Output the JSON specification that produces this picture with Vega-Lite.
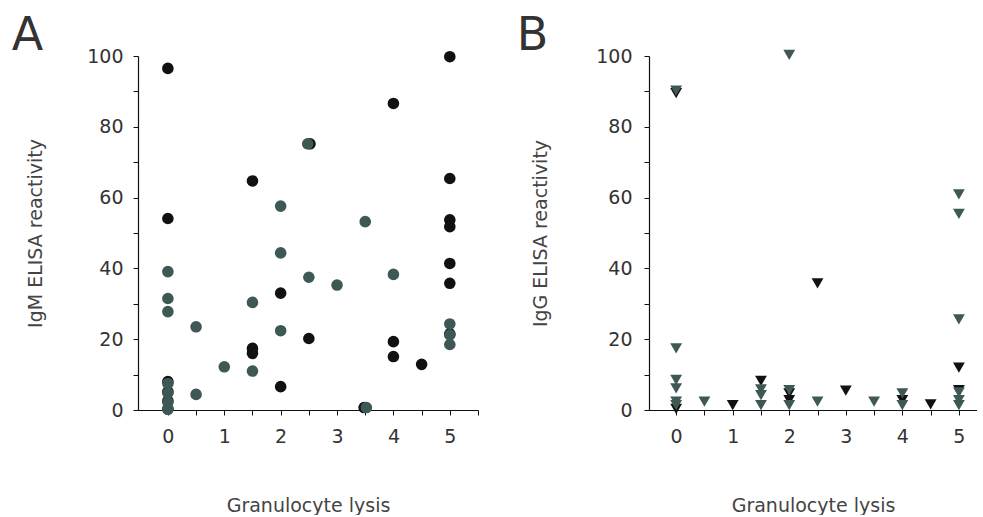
{
  "$schema": "https://vega.github.io/schema/vega-lite/v6.json",
  "background": "white",
  "padding": {"left": 11, "top": 13, "right": 0, "bottom": 0},
  "config": {
    "view": {"stroke": null},
    "font": "DejaVu Sans",
    "axis": {
      "grid": false,
      "domainColor": "#111111",
      "tickColor": "#111111",
      "labelColor": "#333333",
      "titleColor": "#444444",
      "labelFont": "DejaVu Sans",
      "titleFont": "DejaVu Sans",
      "labelFontSize": 19,
      "titleFontSize": 19,
      "titleFontWeight": "normal",
      "tickSize": 5,
      "domainWidth": 1.2,
      "tickWidth": 1
    },
    "axisLeft": {"encode": {"ticks": {"update": {"x2": {"value": 5}}}}},
    "axisBottom": {"encode": {"ticks": {"update": {"y2": {"value": -5}}}}},
    "title": {"fontSize": 46, "fontWeight": "normal", "color": "#333333", "anchor": "start", "frame": "bounds", "baseline": "alphabetic", "offset": -13},
    "concat": {"spacing": 37}
  },
  "hconcat": [
    {
      "title": {"text": "A", "dx": -15},
      "width": 340,
      "height": 354,
      "data": {"values": [
        {"lysis": 0, "igm": 96.5, "group": "black"},
        {"lysis": 0, "igm": 54.1, "group": "black"},
        {"lysis": 0, "igm": 8, "group": "black"},
        {"lysis": 0, "igm": 5.2, "group": "black"},
        {"lysis": 0, "igm": 2.6, "group": "black"},
        {"lysis": 0, "igm": 0.3, "group": "black"},
        {"lysis": 1.5, "igm": 64.7, "group": "black"},
        {"lysis": 1.5, "igm": 17.4, "group": "black"},
        {"lysis": 1.5, "igm": 16.0, "group": "black"},
        {"lysis": 2, "igm": 33.0, "group": "black"},
        {"lysis": 2, "igm": 6.6, "group": "black"},
        {"lysis": 2.52, "igm": 75.2, "group": "black"},
        {"lysis": 2.5, "igm": 20.2, "group": "black"},
        {"lysis": 3.48, "igm": 0.7, "group": "black"},
        {"lysis": 4, "igm": 86.6, "group": "black"},
        {"lysis": 4, "igm": 19.3, "group": "black"},
        {"lysis": 4, "igm": 15.1, "group": "black"},
        {"lysis": 4.5, "igm": 12.9, "group": "black"},
        {"lysis": 5, "igm": 99.8, "group": "black"},
        {"lysis": 5, "igm": 65.4, "group": "black"},
        {"lysis": 5, "igm": 53.7, "group": "black"},
        {"lysis": 5, "igm": 51.8, "group": "black"},
        {"lysis": 5, "igm": 41.4, "group": "black"},
        {"lysis": 5, "igm": 35.8, "group": "black"},
        {"lysis": 5, "igm": 21.5, "group": "black"},
        {"lysis": 0, "igm": 39.1, "group": "gray"},
        {"lysis": 0, "igm": 31.5, "group": "gray"},
        {"lysis": 0, "igm": 27.8, "group": "gray"},
        {"lysis": 0, "igm": 7.5, "group": "gray"},
        {"lysis": 0, "igm": 4.8, "group": "gray"},
        {"lysis": 0, "igm": 2.2, "group": "gray"},
        {"lysis": 0, "igm": 0.2, "group": "gray"},
        {"lysis": 0.5, "igm": 23.5, "group": "gray"},
        {"lysis": 0.5, "igm": 4.4, "group": "gray"},
        {"lysis": 1, "igm": 12.2, "group": "gray"},
        {"lysis": 1.5, "igm": 30.4, "group": "gray"},
        {"lysis": 1.5, "igm": 11.0, "group": "gray"},
        {"lysis": 2, "igm": 57.6, "group": "gray"},
        {"lysis": 2, "igm": 44.4, "group": "gray"},
        {"lysis": 2, "igm": 22.4, "group": "gray"},
        {"lysis": 2.48, "igm": 75.2, "group": "gray"},
        {"lysis": 2.5, "igm": 37.5, "group": "gray"},
        {"lysis": 3, "igm": 35.3, "group": "gray"},
        {"lysis": 3.5, "igm": 53.2, "group": "gray"},
        {"lysis": 3.52, "igm": 0.7, "group": "gray"},
        {"lysis": 4, "igm": 38.3, "group": "gray"},
        {"lysis": 5, "igm": 24.3, "group": "gray"},
        {"lysis": 5, "igm": 21.2, "group": "gray"},
        {"lysis": 5, "igm": 18.5, "group": "gray"}
      ]},
      "mark": {"type": "point", "shape": "circle", "filled": true, "size": 135, "opacity": 1},
      "encoding": {
        "x": {
          "field": "lysis", "type": "quantitative",
          "scale": {"domain": [-0.53, 5.5], "nice": false, "zero": false},
          "axis": {
            "title": "Granulocyte lysis",
            "values": [0, 0.5, 1, 1.5, 2, 2.5, 3, 3.5, 4, 4.5, 5, 5.5],
            "labelExpr": "datum.value % 1 == 0 ? format(datum.value, 'd') : ''",
            "labelPadding": 12,
            "titlePadding": 50
          }
        },
        "y": {
          "field": "igm", "type": "quantitative",
          "scale": {"domain": [0, 100], "nice": false},
          "axis": {
            "title": "IgM ELISA reactivity",
            "values": [0, 10, 20, 30, 40, 50, 60, 70, 80, 90, 100],
            "labelExpr": "datum.value % 20 == 0 ? format(datum.value, 'd') : ''",
            "labelPadding": 10,
            "titlePadding": 41
          }
        },
        "color": {"field": "group", "type": "nominal", "scale": {"domain": ["black", "gray"], "range": ["#111111", "#3e5856"]}, "legend": null}
      }
    },
    {
      "title": {"text": "B", "dx": -15},
      "width": 328,
      "height": 354,
      "data": {"values": [
        {"lysis": 0, "igg": 89.5, "group": "black"},
        {"lysis": 0, "igg": 0.3, "group": "black"},
        {"lysis": 1, "igg": 1.4, "group": "black"},
        {"lysis": 1.5, "igg": 8.2, "group": "black"},
        {"lysis": 2, "igg": 4.7, "group": "black"},
        {"lysis": 2, "igg": 2.8, "group": "black"},
        {"lysis": 2.5, "igg": 35.8, "group": "black"},
        {"lysis": 3, "igg": 5.5, "group": "black"},
        {"lysis": 4, "igg": 2.8, "group": "black"},
        {"lysis": 4.5, "igg": 1.6, "group": "black"},
        {"lysis": 5, "igg": 12.0, "group": "black"},
        {"lysis": 5, "igg": 5.6, "group": "black"},
        {"lysis": 0, "igg": 90.2, "group": "gray"},
        {"lysis": 0, "igg": 17.4, "group": "gray"},
        {"lysis": 0, "igg": 8.5, "group": "gray"},
        {"lysis": 0, "igg": 6.1, "group": "gray"},
        {"lysis": 0, "igg": 2.4, "group": "gray"},
        {"lysis": 0, "igg": 1.4, "group": "gray"},
        {"lysis": 0.5, "igg": 2.4, "group": "gray"},
        {"lysis": 1.5, "igg": 5.8, "group": "gray"},
        {"lysis": 1.5, "igg": 4.2, "group": "gray"},
        {"lysis": 1.5, "igg": 1.4, "group": "gray"},
        {"lysis": 2, "igg": 100.3, "group": "gray"},
        {"lysis": 2, "igg": 5.6, "group": "gray"},
        {"lysis": 2, "igg": 1.4, "group": "gray"},
        {"lysis": 2.5, "igg": 2.4, "group": "gray"},
        {"lysis": 3.5, "igg": 2.4, "group": "gray"},
        {"lysis": 4, "igg": 4.7, "group": "gray"},
        {"lysis": 4, "igg": 1.4, "group": "gray"},
        {"lysis": 5, "igg": 60.9, "group": "gray"},
        {"lysis": 5, "igg": 55.4, "group": "gray"},
        {"lysis": 5, "igg": 25.6, "group": "gray"},
        {"lysis": 5, "igg": 5.0, "group": "gray"},
        {"lysis": 5, "igg": 2.8, "group": "gray"},
        {"lysis": 5, "igg": 1.4, "group": "gray"}
      ]},
      "mark": {"type": "point", "shape": "triangle-down", "filled": true, "size": 140, "opacity": 1, "clip": false},
      "encoding": {
        "x": {
          "field": "lysis", "type": "quantitative",
          "scale": {"domain": [-0.48, 5.32], "nice": false, "zero": false},
          "axis": {
            "title": "Granulocyte lysis",
            "values": [0, 0.5, 1, 1.5, 2, 2.5, 3, 3.5, 4, 4.5, 5],
            "labelExpr": "datum.value % 1 == 0 ? format(datum.value, 'd') : ''",
            "labelPadding": 12,
            "titlePadding": 50
          }
        },
        "y": {
          "field": "igg", "type": "quantitative",
          "scale": {"domain": [0, 100], "nice": false},
          "axis": {
            "title": "IgG ELISA reactivity",
            "values": [0, 10, 20, 30, 40, 50, 60, 70, 80, 90, 100],
            "labelExpr": "datum.value % 20 == 0 ? format(datum.value, 'd') : ''",
            "labelPadding": 12,
            "titlePadding": 45
          }
        },
        "color": {"field": "group", "type": "nominal", "scale": {"domain": ["black", "gray"], "range": ["#111111", "#3e5856"]}, "legend": null}
      }
    }
  ]
}
